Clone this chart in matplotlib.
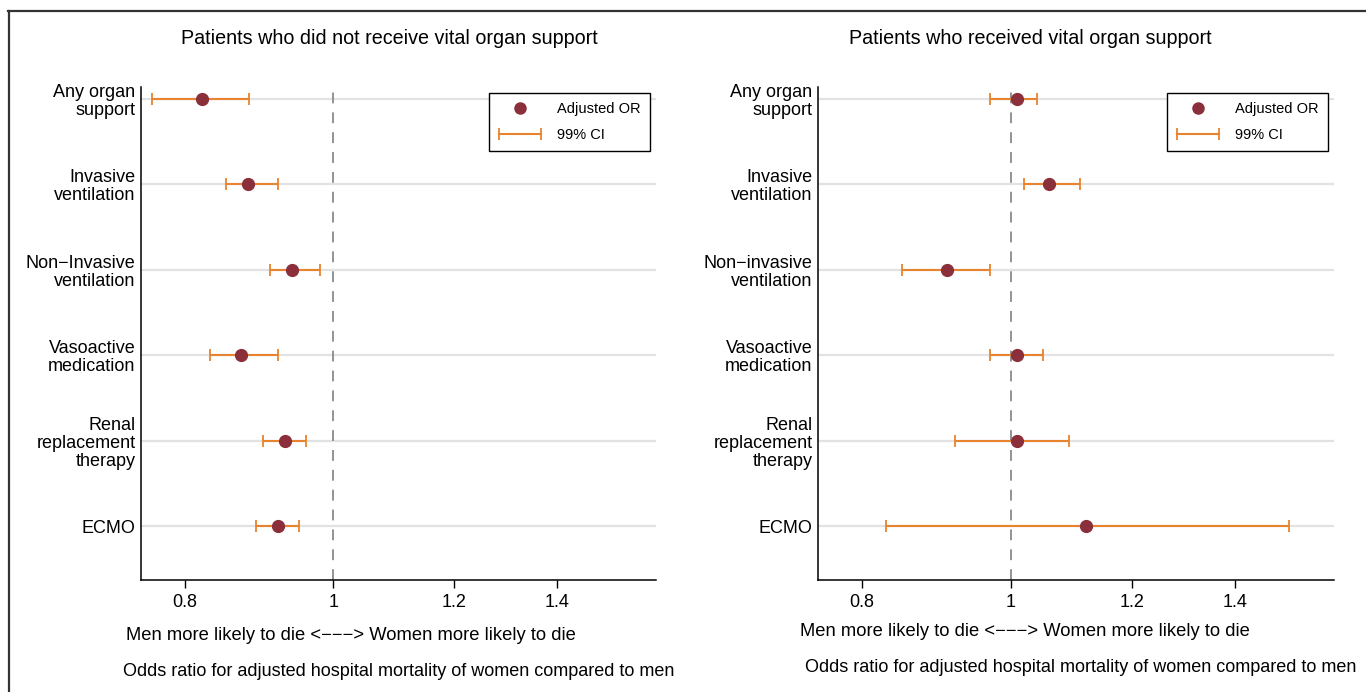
import numpy as np
import matplotlib
matplotlib.use("Agg")
import matplotlib.pyplot as plt
from matplotlib.lines import Line2D
from matplotlib.legend_handler import HandlerLine2D
from matplotlib.ticker import FixedLocator, FixedFormatter, NullLocator

plt.rcParams['font.family'] = ['Liberation Sans', 'DejaVu Sans']

# data (odds ratios, 99% CI)
labels_left = ['Any organ\nsupport', 'Invasive\nventilation', 'Non\u2212Invasive\nventilation',
               'Vasoactive\nmedication', 'Renal\nreplacement\ntherapy', 'ECMO']
or_left = [0.821, 0.880, 0.940, 0.870, 0.930, 0.920]
lo_left = [0.761, 0.851, 0.910, 0.831, 0.900, 0.891]
hi_left = [0.881, 0.920, 0.980, 0.921, 0.960, 0.950]

labels_right = ['Any organ\nsupport', 'Invasive\nventilation', 'Non\u2212invasive\nventilation',
                'Vasoactive\nmedication', 'Renal\nreplacement\ntherapy', 'ECMO']
or_right = [1.010, 1.060, 0.909, 1.010, 1.010, 1.120]
lo_right = [0.970, 1.020, 0.850, 0.970, 0.920, 0.829]
hi_right = [1.040, 1.110, 0.970, 1.050, 1.091, 1.520]

xticks = [0.8, 1, 1.2, 1.4]
xtick_labels = ['0.8', '1', '1.2', '1.4']

title_left = 'Patients who did not receive vital organ support'
title_right = 'Patients who received vital organ support'
note1 = 'Men more likely to die <\u2212\u2212\u2212> Women more likely to die'
note2 = 'Odds ratio for adjusted hospital mortality of women compared to men'

DOT = '#8b2f3a'
ORANGE = '#e8842e'
W, H = 1366, 692


def panel(ax, labels, est, lo, hi):
	y = np.arange(1, len(labels) + 1)
	est = np.array(est)
	err = [est - np.array(lo), np.array(hi) - est]
	for yy in y:
		ax.axhline(yy, color='#e2e2e2', lw=1.6, zorder=0)
	ax.axvline(1, color='#8a8a8a', lw=1.3, ls=(0, (6, 5)), zorder=1)
	ax.errorbar(est, y, xerr=err, fmt='none', ecolor=ORANGE, elinewidth=1.5,
				capsize=4, capthick=1.3, zorder=2)
	ax.plot(est, y, 'o', color=DOT, ms=8.5, zorder=3)
	ax.set_xscale('log')
	ax.set_xlim(0.749, 1.625)
	ax.set_ylim(6.63, 0.86)
	ax.xaxis.set_major_locator(FixedLocator(xticks))
	ax.xaxis.set_major_formatter(FixedFormatter(xtick_labels))
	ax.xaxis.set_minor_locator(NullLocator())
	ax.set_yticks(y)
	ax.set_yticklabels(labels, linespacing=1.07)
	ax.tick_params(axis='y', length=0, pad=4, labelsize=13)
	ax.tick_params(axis='x', length=6, width=1, pad=4, labelsize=13)
	for s in ['top', 'right']:
		ax.spines[s].set_visible(False)
	for s in ['left', 'bottom']:
		ax.spines[s].set_linewidth(1.1)
	h_dot = Line2D([], [], ls='none', marker='o', color=DOT, ms=8)
	h_ci = Line2D([], [], color=ORANGE, lw=1.5, marker='|', ms=8, mew=1.3)
	leg = ax.legend([h_dot, h_ci], ['Adjusted OR', '99% CI'],
					handler_map={h_dot: HandlerLine2D(numpoints=1, marker_pad=0),
								 h_ci: HandlerLine2D(numpoints=2, marker_pad=0)},
					loc='upper right', bbox_to_anchor=(0.9883, 0.9878), borderaxespad=0,
					fontsize=10.5, handlelength=2.9, handletextpad=1.1, borderpad=0.65,
					labelspacing=0.78, fancybox=False, edgecolor='black', framealpha=1)
	leg.get_frame().set_linewidth(1.0)


fig = plt.figure(figsize=(W / 100, H / 100), dpi=100)
ax1 = fig.add_axes([141 / W, 1 - 580 / H, 515 / W, 493 / H])
ax2 = fig.add_axes([818 / W, 1 - 580 / H, 516 / W, 493 / H])
panel(ax1, labels_left, or_left, lo_left, hi_left)
panel(ax2, labels_right, or_right, lo_right, hi_right)

fig.text(389 / W, 1 - 38 / H, title_left, ha='center', va='center', fontsize=14.2)
fig.text(1030 / W, 1 - 38 / H, title_right, ha='center', va='center', fontsize=14.2)
fig.text(351 / W, 1 - 636 / H, note1, ha='center', va='center', fontsize=13.2)
fig.text(399 / W, 1 - 672 / H, note2, ha='center', va='center', fontsize=13.0)
fig.text(1025 / W, 1 - 632 / H, note1, ha='center', va='center', fontsize=13.2)
fig.text(1081 / W, 1 - 668 / H, note2, ha='center', va='center', fontsize=13.0)

# outer frame (only top and left edges show)
fig.add_artist(Line2D([8 / W, 1], [1 - 11 / H, 1 - 11 / H], color='#333333', lw=1.6))
fig.add_artist(Line2D([9 / W, 9 / W], [0, 1 - 11 / H], color='#333333', lw=1.6))

fig.savefig('out.png', dpi=100)
